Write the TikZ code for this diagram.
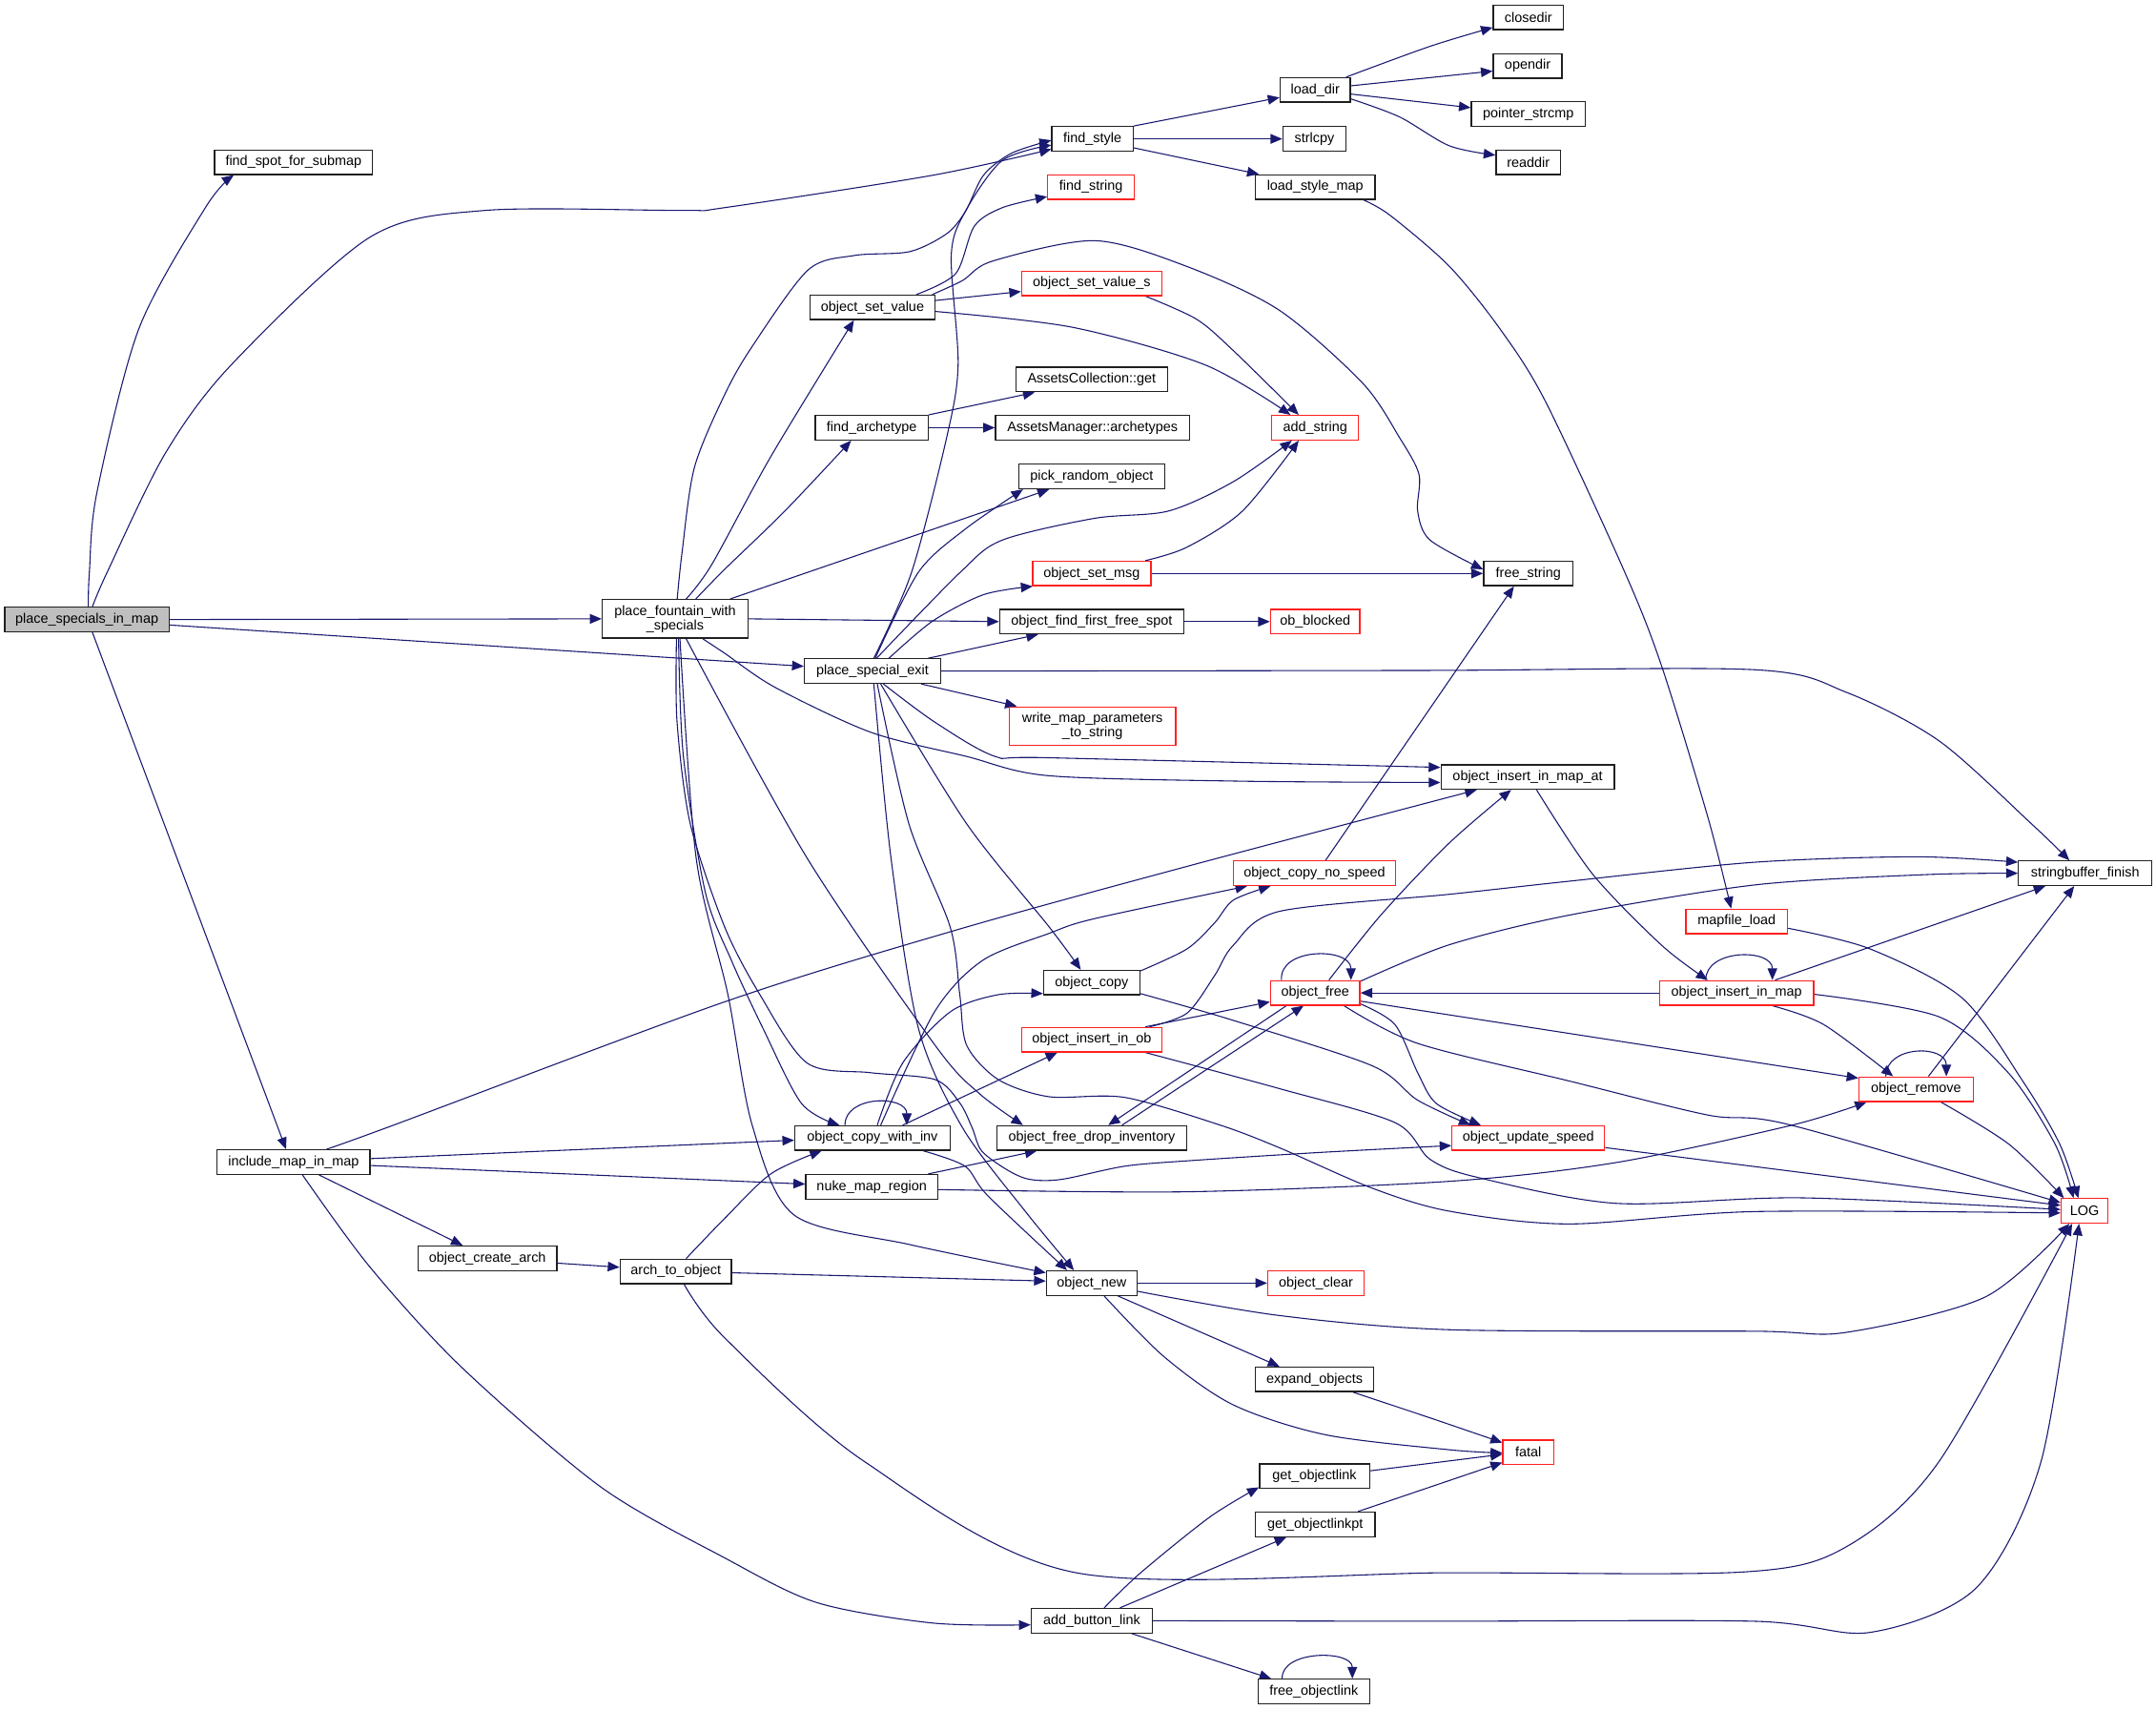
\documentclass[tikz,border=0pt]{standalone}
\usepackage{fontspec}
\setmainfont{Liberation Sans}
\usetikzlibrary{arrows.meta}
\pgfdeclarelayer{bgw}
\pgfdeclarelayer{edges}
\pgfsetlayers{bgw,edges,main}
\definecolor{edgec}{HTML}{191970}
\definecolor{rootfill}{HTML}{BFBFBF}
\definecolor{boxblk}{HTML}{202020}
\definecolor{boxred}{HTML}{FF2020}
\tikzset{
 fn/.style={draw=boxblk, line width=0.9pt, fill=white, minimum height=17.8pt, inner xsep=1pt, inner ysep=0pt, font=\fontsize{10}{10.5}\selectfont, text=black},
 fnr/.style={fn, draw=boxred},
 cedge/.style={draw=edgec, line width=0.75pt, -{Triangle[length=8.5pt,width=7pt]}}
}
\begin{document}
\begin{tikzpicture}[x=1pt,y=-1pt]
\useasboundingbox (0,0) rectangle (1568,1243.4);
\begin{pgfonlayer}{bgw}
\fill[white] (0,0) rectangle (1568,1243.4);
\end{pgfonlayer}
% nodes
\node[fn,fill=rootfill,minimum width=119.6pt] (psm) at (63.2,450.5) {place\_specials\_in\_map};
\node[fn,minimum width=115pt] (fss) at (213.5,118) {find\_spot\_for\_submap};
\node[fn,minimum width=111pt] (imm) at (213.5,845) {include\_map\_in\_map};
\node[fn,minimum width=101pt] (oca) at (354.5,915) {object\_create\_arch};
\node[fn,align=center,minimum width=106pt,minimum height=28pt] (pfw) at (491,450) {place\_fountain\_with\\\_specials};
\node[fn,minimum width=81pt] (ato) at (491.5,924.5) {arch\_to\_object};
\node[fn,minimum width=91pt] (osv) at (634.5,223.5) {object\_set\_value};
\node[fn,minimum width=82pt] (fa) at (634,311) {find\_archetype};
\node[fn,minimum width=99pt] (pse) at (634.5,488) {place\_special\_exit};
\node[fn,minimum width=113pt] (ocwi) at (634.5,827.5) {object\_copy\_with\_inv};
\node[fn,minimum width=96pt] (nmr) at (634,863) {nuke\_map\_region};
\node[fn,minimum width=59pt] (fst) at (794.5,101) {find\_style};
\node[fnr,minimum width=63pt] (fstr) at (793.5,136) {find\_string};
\node[fnr,minimum width=102pt] (osvs) at (794,206) {object\_set\_value\_s};
\node[fn,minimum width=110pt] (acg) at (794,276) {AssetsCollection::get};
\node[fn,minimum width=141pt] (ama) at (794.5,311) {AssetsManager::archetypes};
\node[fn,minimum width=106pt] (pro) at (794,346.5) {pick\_random\_object};
\node[fnr,minimum width=86pt] (osm) at (794,417) {object\_set\_msg};
\node[fn,minimum width=134pt] (offs) at (794,452) {object\_find\_first\_free\_spot};
\node[fnr,align=center,minimum width=121pt,minimum height=28pt] (wmp) at (794.5,528) {write\_map\_parameters\\\_to\_string};
\node[fn,minimum width=70pt] (oc) at (794,714.5) {object\_copy};
\node[fnr,minimum width=102pt] (oiio) at (794,756) {object\_insert\_in\_ob};
\node[fn,minimum width=138pt] (ofdi) at (794,827.5) {object\_free\_drop\_inventory};
\node[fn,minimum width=66pt] (on) at (794,933) {object\_new};
\node[fn,minimum width=88pt] (abl) at (794,1178.5) {add\_button\_link};
\node[fn,minimum width=51pt] (ld) at (956.5,65.4) {load\_dir};
\node[fn,minimum width=46pt] (sl) at (956,101) {strlcpy};
\node[fn,minimum width=87pt] (lsm) at (956.5,136) {load\_style\_map};
\node[fnr,minimum width=63pt] (as) at (956.5,311) {add\_string};
\node[fnr,minimum width=65pt] (ob) at (956.5,452) {ob\_blocked};
\node[fnr,minimum width=118pt] (ocns) at (956,635) {object\_copy\_no\_speed};
\node[fnr,minimum width=65pt] (of) at (956.5,722) {object\_free};
\node[fnr,minimum width=70pt] (ocl) at (957,933) {object\_clear};
\node[fn,minimum width=86pt] (eo) at (956,1003) {expand\_objects};
\node[fn,minimum width=80pt] (gol) at (956,1073.5) {get\_objectlink};
\node[fn,minimum width=87pt] (golp) at (956.5,1108.5) {get\_objectlinkpt};
\node[fn,minimum width=81pt] (fol) at (955.5,1230) {free\_objectlink};
\node[fn,minimum width=51pt] (cd) at (1111.5,12.7) {closedir};
\node[fn,minimum width=50pt] (od) at (1111,48) {opendir};
\node[fn,minimum width=83pt] (ps) at (1111.5,83) {pointer\_strcmp};
\node[fn,minimum width=47pt] (rd) at (1111.5,118) {readdir};
\node[fn,minimum width=65pt] (fsg) at (1111.5,417) {free\_string};
\node[fn,minimum width=126pt] (oiima) at (1111,565) {object\_insert\_in\_map\_at};
\node[fnr,minimum width=111pt] (ous) at (1111.5,827.5) {object\_update\_speed};
\node[fnr,minimum width=37pt] (fatal) at (1111.5,1056) {fatal};
\node[fnr,minimum width=74pt] (mfl) at (1263,670) {mapfile\_load};
\node[fnr,minimum width=112pt] (oiim) at (1263,722) {object\_insert\_in\_map};
\node[fnr,minimum width=83pt] (orm) at (1393.5,792) {object\_remove};
\node[fn,minimum width=97pt] (sbf) at (1516.5,635) {stringbuffer\_finish};
\node[fnr,minimum width=34pt] (log) at (1516,880.5) {LOG};
\begin{pgfonlayer}{edges}
% PSM
\draw[cedge] plot[smooth] coordinates {([xshift=1pt]psm.north) (65,416) (70.5,358) (101,239) (150,150) ([xshift=-43.5pt]fss.south)};
\draw[cedge] plot[smooth] coordinates {([xshift=4pt]psm.north) (78,416) (120,330) (168,265.5) (269,172.5) (353,153) (497,153) (527,151) (678,127.5) ([yshift=-7.5pt]fst.west)};
\draw[cedge] (psm.east) -- (pfw.west);
\draw[cedge] ([yshift=-4pt]psm.east) -- ([yshift=3.5pt]pse.west);
\draw[cedge] ([xshift=4pt]psm.south) -- ([xshift=-5.5pt]imm.north);
% PFW
\draw[cedge] plot[smooth] coordinates {([xshift=1.5pt]pfw.north) (496,402) (505,340) (527,287) (547,252) (587.6,196.4) (621.2,185.8) (661.5,183) (688.4,170) (702,154) (715.3,127.4) (735.5,111.5) ([yshift=-1pt]fst.west)};
\draw[cedge] plot[smooth] coordinates {([xshift=8pt]pfw.north) (517.7,410.4) (560.7,331.8) ([xshift=-13.5pt]osv.south)};
\draw[cedge] plot[smooth] coordinates {([xshift=15pt]pfw.north) (527,414) (570.8,371.6) ([xshift=-15pt]fa.south)};
\draw[cedge] ([xshift=40pt]pfw.north) -- ([xshift=-31pt]pro.south);
\draw[cedge] (pfw.east) -- (offs.west);
\draw[cedge] plot[smooth] coordinates {([xshift=20pt]pfw.south) (527,475) (564,500) (633.4,532.5) (702.8,550) (762,564) (900,568) ([yshift=-4pt]oiima.west)};
\draw[cedge] plot[smooth] coordinates {([xshift=2.5pt]pfw.south) (497,550) (513,649) (532,698.5) (555,748) (583,802.5) ([xshift=-24pt]ocwi.north)};
\draw[cedge] plot[smooth] coordinates {([xshift=3.5pt]pfw.south) (506.3,624) (529.4,723.3) (547,818) (577.5,883.5) (661.6,905) ([yshift=7.5pt]on.west)};
\draw[cedge] plot[smooth] coordinates {([xshift=1pt]pfw.south) (492.4,525) (502,599) (527,674) (552.5,723) (587,773) (633,780) (680,785) (698,802) (707,820) (714,837) (733,851) (749,857.6) (772,857.6) (818,848) (865,844) (960,838) ([yshift=-5.5pt]ous.west)};
\draw[cedge] plot[smooth] coordinates {([xshift=8pt]pfw.south) (587,624) (680,760) (712,795) ([xshift=-50pt]ofdi.north)};
% PSE
\draw[cedge] plot[smooth] coordinates {([xshift=1pt]pse.north) (663,416) (688.4,318.5) (696.8,265.4) (691.8,185.8) (701.9,154) (728.8,116.8) ([yshift=-4.5pt]fst.west)};
\draw[cedge] plot[smooth] coordinates {([xshift=2pt]pse.north) (668,416) (701.9,384.8) ([xshift=-50pt]pro.south)};
\draw[cedge] plot[smooth] coordinates {([xshift=3pt]pse.north) (698.5,416) (728.8,392.8) (796,376.9) (849.8,371.6) (896.9,350.3) ([xshift=-17pt]as.south)};
\draw[cedge] plot[smooth] coordinates {([xshift=12pt]pse.north) (678.3,451.6) (715.3,432.4) ([xshift=-43pt]osm.south)};
\draw[cedge] ([xshift=40.5pt]pse.north) -- ([xshift=-39pt]offs.south);
\draw[cedge] ([xshift=35.5pt]pse.south) -- ([xshift=-55pt]wmp.north);
\draw[cedge] plot[smooth] coordinates {(pse.east) (1040,487.5) (1276,487) (1343,503.5) (1410.6,539) (1478,599.6) ([xshift=-11.5pt]sbf.north)};
\draw[cedge] plot[smooth] coordinates {([xshift=8pt]pse.south) (679.7,525) (723.6,550) (763,551) ([yshift=7pt]oiima.west)};
\draw[cedge] plot[smooth] coordinates {([xshift=6pt]pse.south) (703,599) (763,674) ([xshift=-8pt]oc.north)};
\draw[cedge] plot[smooth] coordinates {([xshift=1pt]pse.south) (648,624) (668,748) (700,820) (745,880) ([xshift=-13pt]on.north)};
\draw[cedge] plot[smooth] coordinates {([xshift=3.5pt]pse.south) (661,599) (691,674) (698,723) (703,760) (726,785) (763,797.5) (818,798) (887,818) (930.5,834.6) (998,864) (1054,880.7) (1141,890) (1276,881) ([yshift=-1.5pt]log.west)};
% OSV
\draw[cedge] plot[smooth] coordinates {([xshift=32pt]osv.north) (695,199) (708.6,164.5) (729,151) ([yshift=-7pt]fstr.west)};
\draw[cedge] plot[smooth] coordinates {([xshift=43.5pt]osv.north) (700,204) (722,189.8) (796,175) (863,193.7) (930.4,225.6) (991,278.6) (1018,318.5) (1032,345) (1031,371.6) (1040,392.7) ([yshift=3pt]fsg.west)};
\draw[cedge] ([yshift=5pt]osv.east) -- ([yshift=-6pt]osvs.west);
\draw[cedge] plot[smooth] coordinates {([yshift=-3pt]osv.east) (780,238) (876.6,265.4) ([xshift=-18pt]as.north)};
\draw[cedge] plot[smooth] coordinates {([xshift=39pt]osvs.south) (870,232) (896.7,254.7) ([xshift=-12pt]as.north)};
% FA
\draw[cedge] (fa.north east) -- ([xshift=-41.5pt]acg.south);
\draw[cedge] (fa.east) -- (ama.west);
% OSM
\draw[cedge] plot[smooth] coordinates {([xshift=39pt]osm.north) (863,398) (903.6,371.6) ([xshift=-12pt]as.south)};
\draw[cedge] (osm.east) -- (fsg.west);
\draw[cedge] (offs.east) -- (ob.west);
% FST
\draw[cedge] (fst.north east) -- ([yshift=-5.5pt]ld.west);
\draw[cedge] (fst.east) -- (sl.west);
\draw[cedge] ([yshift=-6.5pt]fst.east) -- ([xshift=3pt]lsm.north west);
% LD
\draw[cedge] plot[smooth] coordinates {([xshift=22.5pt]ld.north) (1040,33.7) ([yshift=-7.3pt]cd.west)};
\draw[cedge] ([yshift=3pt]ld.east) -- ([yshift=-3.7pt]od.west);
\draw[cedge] ([yshift=-3pt]ld.east) -- ([yshift=4.7pt]ps.west);
\draw[cedge] plot[smooth] coordinates {([yshift=-6.5pt]ld.east) (1017.8,85) (1054,106) ([yshift=5.2pt]rd.west)};
\draw[cedge] plot[smooth] coordinates {([xshift=35pt]lsm.south) (1011,156.6) (1054,193.6) (1090.7,238.9) (1124,292) (1181.6,416) (1208.5,484.5) (1242,594) ([xshift=-4pt]mfl.north)};
% IMM
\draw[cedge] plot[smooth] coordinates {([xshift=24pt]imm.north) (285.8,818.3) (527,728.5) (695,676.4) (863.3,630) ([xshift=-37pt]oiima.south)};
\draw[cedge] ([yshift=2.5pt]imm.east) -- ([yshift=-1.6pt]ocwi.west);
\draw[cedge] ([yshift=-2.5pt]imm.east) -- ([yshift=2pt]nmr.west);
\draw[cedge] ([xshift=18.5pt]imm.south) -- ([xshift=-18pt]oca.north);
\draw[cedge] plot[smooth] coordinates {([xshift=6.5pt]imm.south) (269,921.3) (336,994.5) (437,1081.3) (527,1132.8) (594,1165.3) (678.3,1180.2) ([yshift=-3pt]abl.west)};
\draw[cedge] ([yshift=-3.5pt]oca.east) -- ([yshift=3pt]ato.west);
% ATO
\draw[cedge] plot[smooth] coordinates {([xshift=7.5pt]ato.north) (527,886) (560.7,853.5) ([xshift=-37pt]ocwi.south)};
\draw[cedge] ([yshift=-1pt]ato.east) -- ([yshift=1.5pt]on.west);
\draw[cedge] plot[smooth] coordinates {([xshift=6pt]ato.south) (527,972.8) (628,1062.3) (782.5,1143.6) (1054,1143.6) (1269,1143) (1343,1124.6) (1410.5,1062.3) ([xshift=-9pt]log.south)};
% OCWI
\draw[cedge] ([xshift=-20pt]ocwi.north) .. controls +(0,-22) and +(0,-22) .. ([xshift=25pt]ocwi.north);
\draw[cedge] plot[smooth] coordinates {([xshift=3.5pt]ocwi.north) (656.6,772.8) (691.2,735.7) (725.9,723.3) ([yshift=-8pt]oc.west)};
\draw[cedge] plot[smooth] coordinates {([xshift=6pt]ocwi.north) (679.7,735.7) (714.4,698.5) (763,678.7) (796,668) ([xshift=-49pt]ocns.south)};
\draw[cedge] ([xshift=22pt]ocwi.north) -- ([xshift=-25pt]oiio.south);
\draw[cedge] plot[smooth] coordinates {([xshift=37pt]ocwi.south) (701.8,848) (718.5,869.6) ([xshift=-18pt]on.north)};
% NMR
\draw[cedge] ([xshift=41pt]nmr.north) -- ([xshift=-40pt]ofdi.south);
\draw[cedge] plot[smooth] coordinates {([yshift=-2pt]nmr.east) (863.3,866.6) (1054,859) (1175,845.4) (1302.7,818.3) ([xshift=-36pt]orm.south)};
% OC
\draw[cedge] plot[smooth] coordinates {([yshift=8.5pt]oc.east) (863.3,690) (883.4,671) (897,654.5) ([xshift=-32pt]ocns.south)};
\draw[cedge] plot[smooth] coordinates {([yshift=-8pt]oc.east) (897,742) (998,775) (1031,800) ([xshift=-42pt]ous.north)};
% OF
\draw[cedge] ([xshift=-24.5pt]of.north) .. controls +(-2,-24) and +(0,-24) .. ([xshift=26pt]of.north);
\draw[cedge] plot[smooth] coordinates {([xshift=10pt]of.north) (1004.6,665) (1054,613) ([xshift=-12pt]oiima.south)};
\draw[cedge] plot[smooth] coordinates {([yshift=8.5pt]of.east) (1054,687) (1141,665.5) (1276,643.5) (1400,636) (sbf.west)};
\draw[cedge] ([yshift=-6pt]of.east) -- ([yshift=8pt]orm.west);
\draw[cedge] plot[smooth] coordinates {([yshift=-8pt]of.east) (1014.5,745) (1031.3,780.6) (1044.7,802.5) ([xshift=-34.5pt]ous.north)};
\draw[cedge] plot[smooth] coordinates {([xshift=21pt]of.south) (1031,758.7) (1141,786) (1242,810.8) (1302,818) ([yshift=6pt]log.west)};
\draw[cedge] ([xshift=-21pt]of.south) -- ([xshift=12pt]ofdi.north);
\draw[cedge] ([xshift=22pt]ofdi.north) -- ([xshift=-8.5pt]of.south);
% OIIO
\draw[cedge] ([xshift=39pt]oiio.north) -- ([yshift=-6.5pt]of.west);
\draw[cedge] plot[smooth] coordinates {([xshift=42pt]oiio.north) (863.3,736.7) (883.4,709.3) (896.9,687.4) (930.5,662.7) (1054,650.3) (1141,640.8) (1275.8,627) (1393.6,623) ([yshift=8pt]sbf.west)};
\draw[cedge] plot[smooth] coordinates {([xshift=39pt]oiio.south) (930.5,791.6) (1014.5,816.3) (1040,843) (1074,856) (1175,875) (1309.5,871) ([yshift=1pt]log.west)};
% OIIMA
\draw[cedge] plot[smooth] coordinates {([xshift=6.5pt]oiima.south) (1158,635.3) (1208.5,687.4) ([xshift=-21pt]oiim.north)};
% OIIM
\draw[cedge] (oiim.west) -- (of.east);
\draw[cedge] ([xshift=-22.5pt]oiim.north) .. controls +(0,-23) and +(0,-23) .. ([xshift=26pt]oiim.north);
\draw[cedge] ([xshift=28pt]oiim.north) -- ([xshift=-29pt]sbf.south);
\draw[cedge] plot[smooth] coordinates {([xshift=26pt]oiim.south) (1326.3,745) ([xshift=-16.7pt]orm.north)};
\draw[cedge] plot[smooth] coordinates {([yshift=-1pt]oiim.east) (1410.5,739.5) (1461,780.6) (1494.6,832) ([xshift=-8pt]log.north)};
\draw[cedge] plot[smooth] coordinates {([yshift=-5pt]mfl.east) (1360,690) (1427,725.7) (1471,786) (1498,832) ([xshift=-4.5pt]log.north)};
% ORM
\draw[cedge] ([xshift=-22pt]orm.north) .. controls +(0,-23) and +(0,-23) .. ([xshift=22pt]orm.north);
\draw[cedge] ([xshift=9pt]orm.north) -- ([xshift=-8pt]sbf.south);
\draw[cedge] plot[smooth] coordinates {([xshift=18pt]orm.south) (1461,832) ([xshift=-15pt]log.north)};
\draw[cedge] ([yshift=-7pt]ous.east) -- ([yshift=4pt]log.west);
% ON
\draw[cedge] (on.east) -- (ocl.west);
\draw[cedge] ([xshift=19pt]on.south) -- ([xshift=-25.5pt]eo.north);
\draw[cedge] plot[smooth] coordinates {([xshift=9pt]on.south) (846.4,986.4) (897,1021.6) (964,1043.3) (1054,1054.2) ([yshift=-0.5pt]fatal.west)};
\draw[cedge] plot[smooth] coordinates {([yshift=-6pt]on.east) (930.5,956.6) (1054,966.9) (1275.8,968) (1343,968.8) (1444,943) ([xshift=-11pt]log.south)};
\draw[cedge] plot[smooth] coordinates {([xshift=28pt]eo.south) (1040,1031) ([yshift=7pt]fatal.west)};
\draw[cedge] ([yshift=4pt]gol.east) -- ([yshift=-1.5pt]fatal.west);
\draw[cedge] ([xshift=31pt]golp.north) -- ([yshift=-7.5pt]fatal.west);
% ABL
\draw[cedge] plot[smooth] coordinates {([xshift=9pt]abl.north) (829.6,1143.6) (880,1103) ([yshift=-8pt]gol.west)};
\draw[cedge] ([xshift=20.5pt]abl.north) -- ([xshift=-21pt]golp.south);
\draw[cedge] ([xshift=29pt]abl.south) -- ([xshift=-31pt]fol.north);
\draw[cedge] plot[smooth] coordinates {(abl.east) (1040,1178.9) (1275.8,1178.9) (1360,1187) (1437.4,1154.5) (1484.5,1062.3) ([xshift=-4pt]log.south)};
\draw[cedge] ([xshift=-23pt]fol.north) .. controls +(-1,-21) and +(0,-21) .. ([xshift=28pt]fol.north);
% OCNS
\draw[cedge] ([xshift=8pt]ocns.north) -- ([xshift=-10.5pt]fsg.south);
\end{pgfonlayer}
\end{tikzpicture}
\end{document}
